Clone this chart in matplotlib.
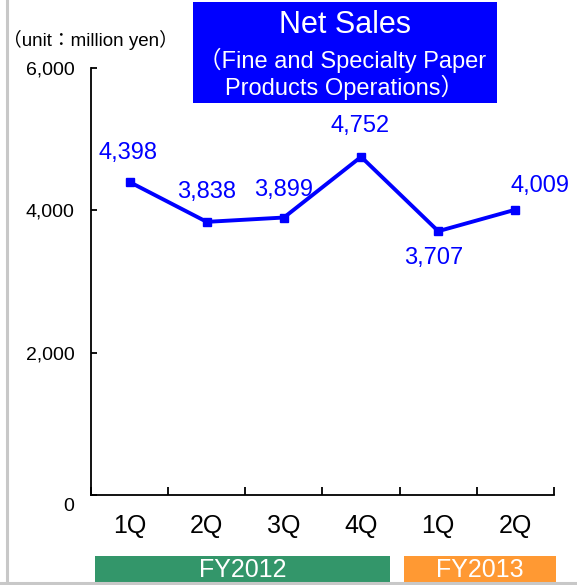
import matplotlib
matplotlib.use("Agg")
import matplotlib.pyplot as plt
from matplotlib.patches import Rectangle
from matplotlib.lines import Line2D
from matplotlib.transforms import ScaledTranslation

plt.rcParams['font.family'] = ['Liberation Sans', 'Noto Sans CJK JP']

# quarterly net sales, million yen
quarters = ['1Q', '2Q', '3Q', '4Q', '1Q', '2Q']
net_sales = [4398, 3838, 3899, 4752, 3707, 4009]
fiscal_years = ['FY2012', 'FY2013']
year_colors = ['#33966A', '#FF9933']
yticks = [0, 2000, 4000, 6000]

# where each value label sits relative to its point (points)
label_offsets = [(-1, 21), (0, 21.5), (0, 19.5), (-1, 22), (-3, -19.5), (18, 17)]
# fiscal year bands along the bottom, in category units
band_spans = [(-0.45, 3.38), (3.56, 5.53)]

blue = '#0000FF'

fig = plt.figure(figsize=(5.77, 5.85), dpi=100)
W, H = 577, 585
ax = fig.add_axes([91 / W, 1 - 495 / H, (554 - 91) / W, (495 - 68) / H])

x = list(range(len(net_sales)))
ax.plot(x, net_sales, color=blue, lw=2.8, marker='s', ms=5.5, clip_on=False)
for i, v in enumerate(net_sales):
    ax.annotate(f'{v:,}', (i, v), xytext=label_offsets[i], textcoords='offset points',
                ha='center', va='center', color=blue, fontsize=17)

ax.set_xlim(-0.5, len(net_sales) - 0.5)
ax.set_ylim(0, 6000)
ax.set_yticks(yticks)
ax.set_yticklabels([f'{t:,}' for t in yticks])
ax.set_xticks(x)
ax.set_xticklabels(quarters, fontsize=18)
ax.set_xticks([i - 0.5 for i in range(len(net_sales) + 1)], minor=True)
ax.tick_params(axis='x', which='major', length=0, pad=14)
ax.tick_params(axis='x', which='minor', direction='in', length=6, width=1.3)
ax.tick_params(axis='y', direction='in', length=4, width=1.3, pad=12, labelsize=14)

# the zero label sits a bit below the axis line
zero_lbl = ax.get_yticklabels()[0]
zero_lbl.set_transform(zero_lbl.get_transform() + ScaledTranslation(0, -7 / 72, fig.dpi_scale_trans))

for s in ['top', 'right']:
    ax.spines[s].set_visible(False)
for s in ['left', 'bottom']:
    ax.spines[s].set_linewidth(1.3)

# fiscal year bands
trans = ax.get_xaxis_transform()
for fy, col, (x0, x1) in zip(fiscal_years, year_colors, band_spans):
    ax.add_patch(Rectangle((x0, -0.225), x1 - x0, 0.083, transform=trans,
                           facecolor=col, edgecolor='none', clip_on=False))
    ax.text((x0 + x1) / 2, -0.176, fy, transform=trans, ha='center', va='center',
            color='white', fontsize=18, clip_on=False)

# title box
fig.patches.append(Rectangle((193 / W, 1 - 103 / H), (497 - 193) / W, 101 / H,
                             transform=fig.transFigure, facecolor=blue, edgecolor='none'))
fig.text(345 / W, 1 - 25 / H, 'Net Sales', ha='center', va='center', color='white', fontsize=22)
fig.text(342 / W, 1 - 60 / H, '（Fine and Specialty Paper', ha='center', va='center',
         color='white', fontsize=17)
fig.text(345 / W, 1 - 87 / H, 'Products Operations）', ha='center', va='center',
         color='white', fontsize=17)

fig.text(3 / W, 1 - 40 / H, '（unit：million yen）', ha='left', va='center', fontsize=13.5)

# light grey frame on the left and bottom
fig.lines.append(Line2D([7 / W, 7 / W], [0, 1], transform=fig.transFigure, color='#C8C8C8', lw=2.2))
fig.lines.append(Line2D([0, 1], [2 / H, 2 / H], transform=fig.transFigure, color='#C8C8C8', lw=2.2))

fig.savefig('out.png', dpi=100)
